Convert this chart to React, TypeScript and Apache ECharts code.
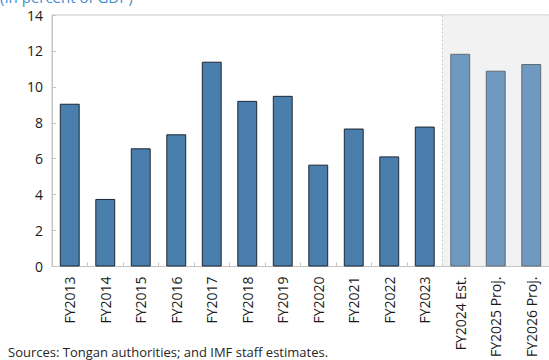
import React, { useEffect, useRef } from "react";
import * as echarts from "echarts";

const categories = [
  "FY2013", "FY2014", "FY2015", "FY2016", "FY2017", "FY2018", "FY2019",
  "FY2020", "FY2021", "FY2022", "FY2023", "FY2024 Est.", "FY2025 Proj.", "FY2026 Proj.",
];
const values = [9.06, 3.76, 6.58, 7.36, 11.4, 9.22, 9.5, 5.67, 7.68, 6.13, 7.79, 11.84, 10.9, 11.27];
const projectedFrom = 11; // index of first estimate/projection
const yTicks = { min: 0, max: 14, interval: 2 };
const titleText = "(In percent of GDP)";
const sourceText = "Sources: Tongan authorities; and IMF staff estimates.";

const FONT = "'Open Sans', 'Noto Sans', sans-serif";

export default function App() {
  const ref = useRef<HTMLDivElement>(null);
  useEffect(() => {
    if (!ref.current) return;
    const chart = echarts.init(ref.current, null, { renderer: "svg" });
    const data = values.map((v, i) =>
      i >= projectedFrom
        ? { value: v, itemStyle: { color: "#6f99be", borderColor: "#5f6b75", borderWidth: 1 } }
        : { value: v, itemStyle: { color: "#4a7eac", borderColor: "#1c2733", borderWidth: 1 } }
    );
    const option: any = {
      animation: false,
      textStyle: { fontFamily: FONT },
      grid: {
        left: 52,
        top: 15,
        right: -4,
        bottom: 92,
        show: true,
        borderColor: "#c4c4c4",
        borderWidth: 1,
        backgroundColor: "transparent",
      },
      xAxis: {
        type: "category",
        data: categories,
        boundaryGap: true,
        axisLine: { show: true, lineStyle: { color: "#c4c4c4", width: 1 } },
        axisTick: { show: true, inside: true, length: 4, interval: 0, lineStyle: { color: "#c4c4c4" } },
        axisLabel: { rotate: 90, interval: 0, margin: 10, fontSize: 14, color: "#1a1a1a", fontFamily: FONT },
      },
      yAxis: {
        type: "value",
        min: yTicks.min,
        max: yTicks.max,
        interval: yTicks.interval,
        axisLine: { show: true, lineStyle: { color: "#c4c4c4", width: 1 } },
        axisTick: { show: true, inside: true, length: 4, lineStyle: { color: "#c4c4c4" } },
        splitLine: { show: false },
        axisLabel: { margin: 9, fontSize: 14, color: "#1a1a1a", fontFamily: FONT },
      },
      series: [
        {
          type: "bar",
          data,
          barWidth: "56%",
          z: 3,
        },
      ],
    };
    chart.setOption(option);

    const c0 = chart.convertToPixel({ xAxisIndex: 0 }, categories[projectedFrom]) as number;
    const c1 = chart.convertToPixel({ xAxisIndex: 0 }, categories[projectedFrom + 1]) as number;
    const band = c1 - c0;
    const xStart = c0 - band / 2;
    const yTop = chart.convertToPixel({ yAxisIndex: 0 }, yTicks.max) as number;
    const yBot = chart.convertToPixel({ yAxisIndex: 0 }, yTicks.min) as number;

    chart.setOption({
      graphic: [
        {
          type: "rect",
          z: 1,
          silent: true,
          shape: { x: xStart, y: yTop + 0.5, width: 600, height: yBot - yTop - 1 },
          style: { fill: "#f2f2f2" },
        },
        {
          type: "line",
          z: 2,
          silent: true,
          shape: { x1: xStart, y1: yTop + 0.5, x2: xStart, y2: yBot },
          style: { stroke: "#c8c8c8", lineWidth: 1, lineDash: [2, 2] },
        },
        {
          type: "text",
          z: 5,
          x: 0,
          y: -11,
          style: {
            text: titleText,
            fontSize: 15,
            fill: "#3d8fd1",
            fontFamily: FONT,
            textVerticalAlign: "top",
          },
        },
        {
          type: "text",
          z: 5,
          x: 8,
          y: 352,
          style: {
            text: sourceText,
            fontSize: 13,
            fill: "#262626",
            fontFamily: FONT,
            textVerticalAlign: "middle",
          },
        },
      ],
    });

    return () => chart.dispose();
  }, []);
  return (
    <div
      ref={ref}
      style={{ position: "fixed", left: 0, top: 0, width: 549, height: 360, background: "#fff" }}
    />
  );
}
